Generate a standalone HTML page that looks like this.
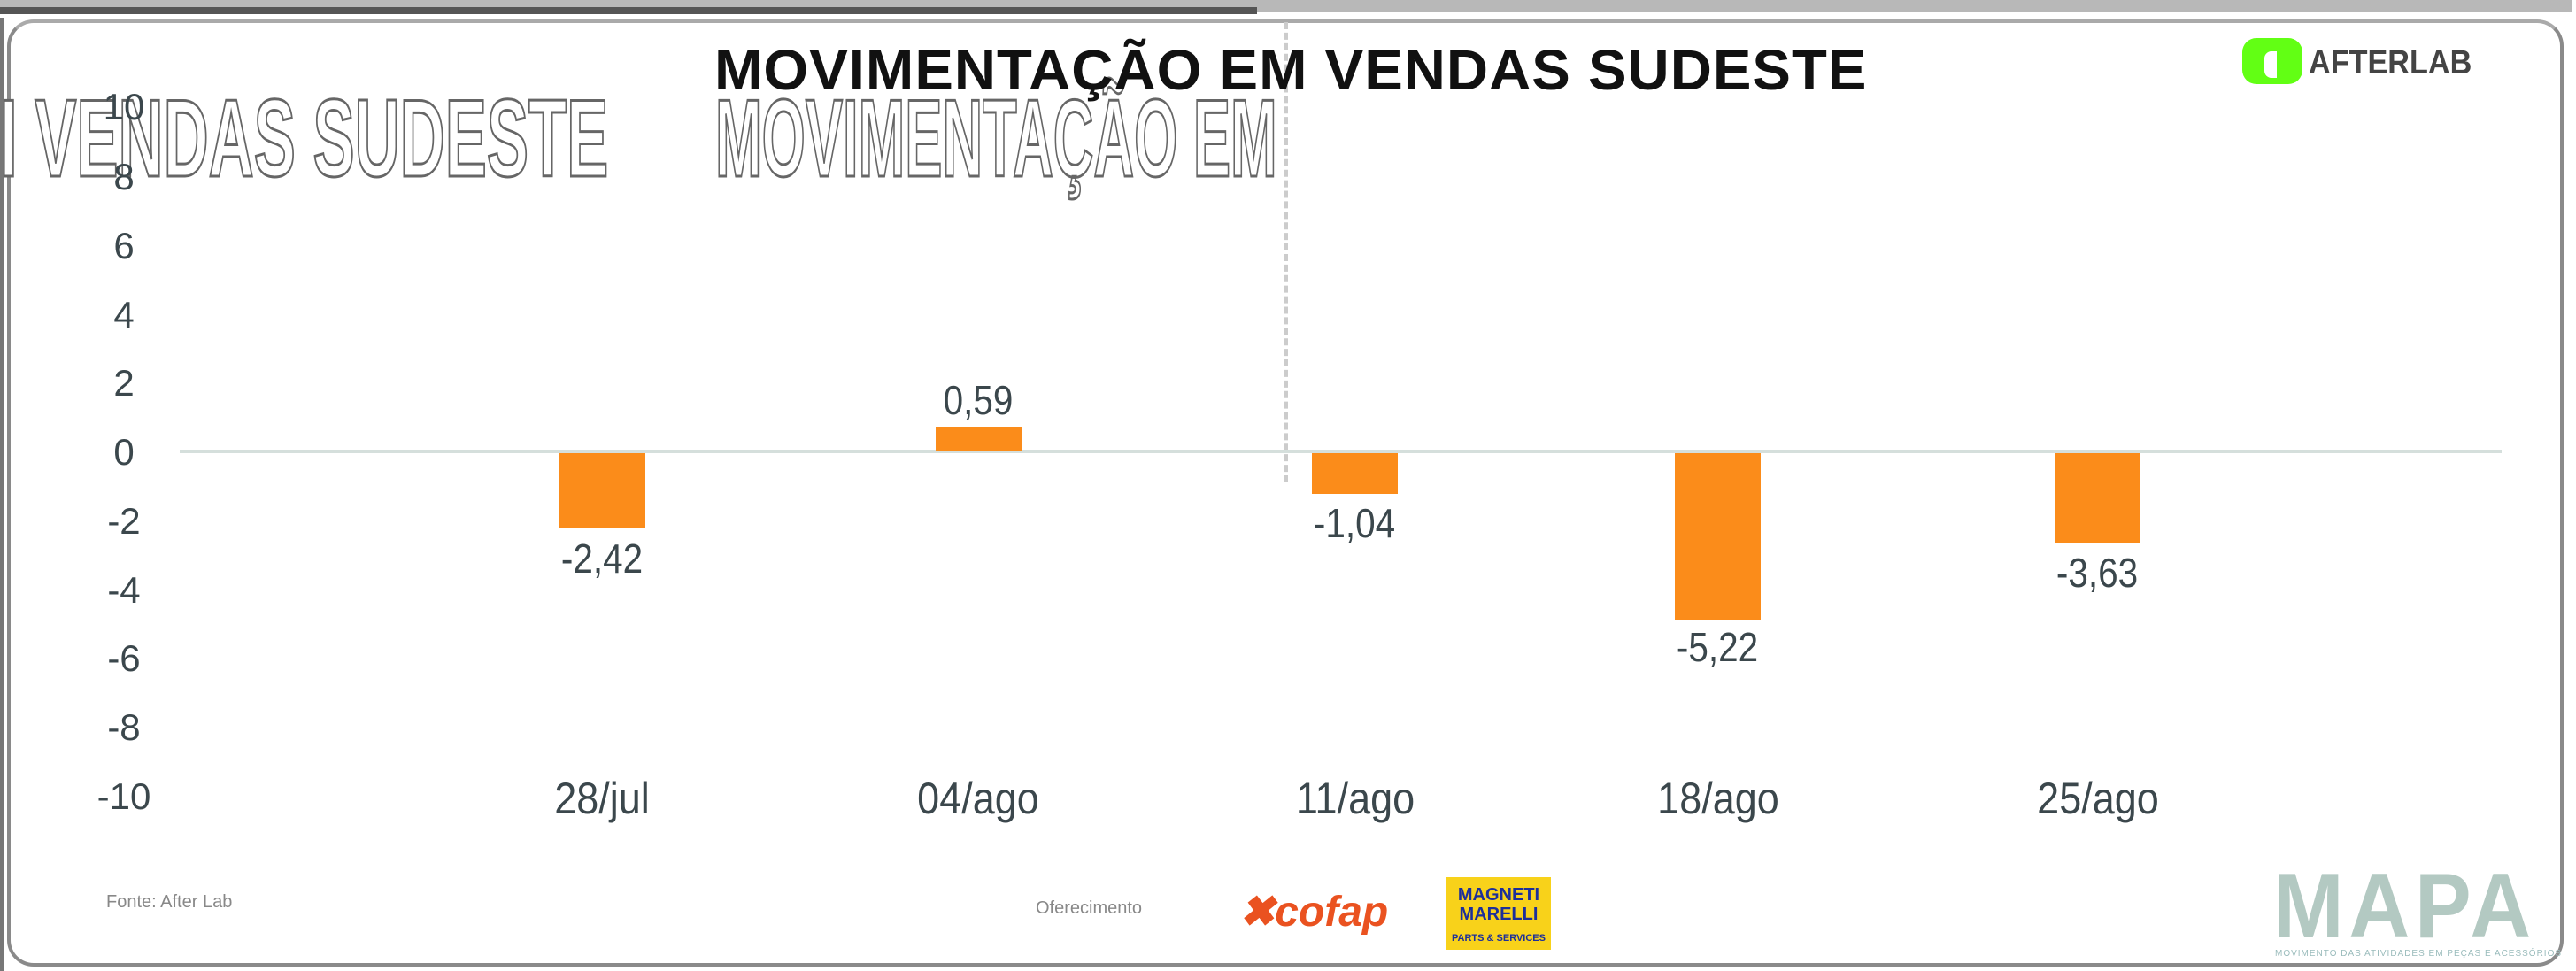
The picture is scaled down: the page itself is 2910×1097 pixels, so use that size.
<!DOCTYPE html>
<html><head><meta charset="utf-8"><style>
html,body{margin:0;padding:0;background:#fff}
body{width:2910px;height:1097px;position:relative;overflow:hidden;font-family:"Liberation Sans",sans-serif}
.a{position:absolute;white-space:nowrap}
.yt{position:absolute;left:100px;width:80px;text-align:center;font-size:42px;color:#3b474c;line-height:40px}
.bar{position:absolute;background:#fb8c1a;width:97px}
.v{position:absolute;width:240px;text-align:center;font-size:46px;color:#3b474c;line-height:50px;transform:scaleX(0.88)}
.xl{position:absolute;width:300px;text-align:center;font-size:50px;color:#3b474c;line-height:56px;top:874px;transform:scaleX(0.9)}
.ghost{position:absolute;font-weight:bold;color:#fff;-webkit-text-stroke:3px #666;font-size:124px;line-height:100px;transform-origin:0 0}
</style></head><body>
<div class="a" style="left:0;top:0;width:2905px;height:14px;background:#b8b8b8"></div>
<div class="a" style="left:0;top:8px;width:1420px;height:8px;background:#555"></div>
<div class="a" style="left:8px;top:22px;width:2880px;height:1062px;border:4px solid #8a8a8a;border-top-color:#aaa;border-radius:30px"></div>
<div class="a" style="left:0;top:20px;width:5px;height:1077px;background:#777"></div>
<div class="a" style="left:1451px;top:25px;width:0;height:520px;border-left:4px dashed #ccc"></div>

<div class="ghost" style="left:0px;top:107px;transform:scaleX(0.57)">I VENDAS SUDESTE</div>
<div class="ghost" style="left:808px;top:107px;transform:scaleX(0.51)">MOVIMENTAÇÃO EM</div>

<div class="a" style="left:807px;top:44px;font-size:64px;font-weight:bold;color:#111;line-height:70px;letter-spacing:1px;transform:scaleX(1.02);transform-origin:0 0">MOVIMENTAÇÃO EM VENDAS SUDESTE</div>

<div class="a" style="left:2533px;top:43px;width:68px;height:52px;background:#62ff14;border-radius:16px"></div>
<div class="a" style="left:2558px;top:58px;width:14px;height:30px;background:#fff;border-radius:8px 0 0 8px"></div>
<div class="a" style="left:2608px;top:52px;font-size:38px;font-weight:bold;color:#444;line-height:38px;transform:scaleX(0.9);transform-origin:0 0">AFTERLAB</div>

<div class="yt" style="top:101px">10</div>
<div class="yt" style="top:180px">8</div>
<div class="yt" style="top:258px">6</div>
<div class="yt" style="top:336px">4</div>
<div class="yt" style="top:413px">2</div>
<div class="yt" style="top:491px">0</div>
<div class="yt" style="top:569px">-2</div>
<div class="yt" style="top:647px">-4</div>
<div class="yt" style="top:724px">-6</div>
<div class="yt" style="top:802px">-8</div>
<div class="yt" style="top:880px">-10</div>

<div class="a" style="left:203px;top:508px;width:2623px;height:4px;background:#d5dfdc"></div>

<div class="bar" style="left:632px;top:512px;height:84px"></div>
<div class="bar" style="left:1057px;top:482px;height:28px"></div>
<div class="bar" style="left:1482px;top:512px;height:46px"></div>
<div class="bar" style="left:1892px;top:512px;height:189px"></div>
<div class="bar" style="left:2321px;top:512px;height:101px"></div>

<div class="v" style="left:560px;top:606px">-2,42</div>
<div class="v" style="left:985px;top:427px">0,59</div>
<div class="v" style="left:1410px;top:566px">-1,04</div>
<div class="v" style="left:1820px;top:706px">-5,22</div>
<div class="v" style="left:2249px;top:622px">-3,63</div>

<div class="xl" style="left:530px">28/jul</div>
<div class="xl" style="left:955px">04/ago</div>
<div class="xl" style="left:1381px">11/ago</div>
<div class="xl" style="left:1791px">18/ago</div>
<div class="xl" style="left:2220px">25/ago</div>

<div class="a" style="left:120px;top:1008px;font-size:20px;color:#888">Fonte: After Lab</div>
<div class="a" style="left:1170px;top:1015px;font-size:20px;color:#888">Oferecimento</div>
<div class="a" style="left:1400px;top:1003px;font-size:48px;font-weight:bold;font-style:italic;color:#ea5220;line-height:56px">✖cofap</div>
<div class="a" style="left:1634px;top:991px;width:118px;height:82px;background:#f8d21a"></div>
<div class="a" style="left:1640px;top:1000px;width:106px;font-size:20px;font-weight:bold;color:#1d2f9a;text-align:center;line-height:22px">MAGNETI<br>MARELLI</div>
<div class="a" style="left:1634px;top:1054px;width:118px;font-size:11px;font-weight:bold;color:#1d2f9a;text-align:center">PARTS &amp; SERVICES</div>
<div class="a" style="left:2568px;top:974px;font-size:104px;font-weight:bold;color:#b3c9c2;line-height:100px;letter-spacing:6px;transform:scaleX(0.92);transform-origin:0 0">MAPA</div>
<div class="a" style="left:2570px;top:1072px;font-size:10px;color:#9bb;letter-spacing:1px">MOVIMENTO DAS ATIVIDADES EM PEÇAS E ACESSÓRIOS</div>
</body></html>
